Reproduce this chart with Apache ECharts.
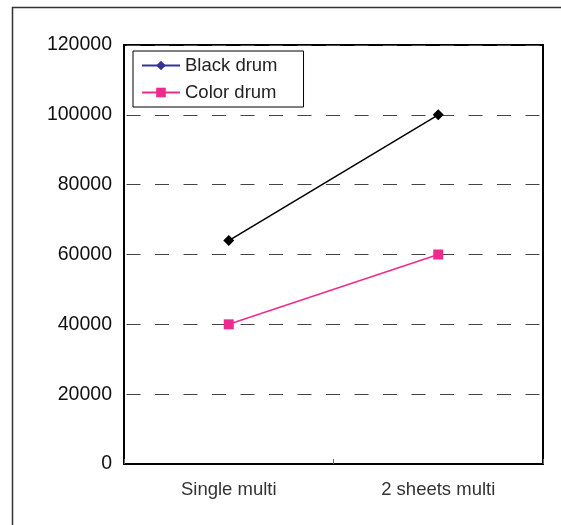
<!DOCTYPE html>
<html>
<head>
<meta charset="utf-8">
<script src="https://cdn.jsdelivr.net/npm/echarts@6/dist/echarts.min.js"></script>
<style>
  html, body { margin: 0; padding: 0; background: #fff; }
  #chart { width: 561px; height: 525px; }
</style>
</head>
<body>
<div id="chart"></div>
<script>
  // data
  const categories = ['Single multi', '2 sheets multi'];
  const blackDrum = [64000, 100000];
  const colorDrum = [40000, 60000];
  const yTicks = { min: 0, max: 120000, interval: 20000 };

  const chartDom = document.getElementById('chart');
  const myChart = echarts.init(chartDom, null, { renderer: 'canvas' });
  const font = 'Liberation Sans, Arial, sans-serif';

  const option = {
    animation: false,
    backgroundColor: '#fff',
    textStyle: { fontFamily: font },
    graphic: [
      {
        // outer frame (only top + left visible in the reference)
        type: 'rect',
        shape: { x: 12.5, y: 7.5, width: 600, height: 600 },
        style: { fill: 'none', stroke: '#333', lineWidth: 1.5 },
        silent: true
      }
    ],
    grid: { left: 124, top: 45, right: 18, bottom: 61, containLabel: false,
      show: true, borderColor: '#000', borderWidth: 2 },
    legend: {
      orient: 'vertical',
      left: 133,
      top: 51,
      padding: [5, 26, 5, 8],
      itemGap: 8,
      itemWidth: 38,
      itemHeight: 12,
      borderColor: '#000',
      borderWidth: 1,
      textStyle: { fontSize: 18.5, color: '#222', fontFamily: font, lineHeight: 19 },
      data: [
        { name: 'Black drum', itemStyle: { color: '#333399' }, lineStyle: { color: '#333399' } },
        { name: 'Color drum', itemStyle: { color: '#ee2a8f' }, lineStyle: { color: '#ee2a8f' } }
      ]
    },
    xAxis: {
      type: 'category',
      data: categories,
      boundaryGap: true,
      axisLine: { lineStyle: { color: '#000', width: 2 } },
      axisTick: { show: true, length: 5, inside: true, lineStyle: { color: '#666' } },
      axisLabel: { fontSize: 18.5, color: '#333', margin: 16 }
    },
    yAxis: {
      type: 'value',
      min: yTicks.min,
      max: yTicks.max,
      interval: yTicks.interval,
      axisLine: { show: true, lineStyle: { color: '#000', width: 2 } },
      axisTick: { show: false },
      axisLabel: { fontSize: 19.5, color: '#111', margin: 12, formatter: v => String(v) },
      splitLine: { show: true, lineStyle: { color: '#444', width: 1, type: [14, 14.5], dashOffset: 26 } }
    },
    series: [
      {
        name: 'Black drum',
        type: 'line',
        data: blackDrum,
        symbol: 'diamond',
        symbolSize: 11,
        itemStyle: { color: '#000' },
        lineStyle: { color: '#000', width: 1.5 },
        z: 3
      },
      {
        name: 'Color drum',
        type: 'line',
        data: colorDrum,
        symbol: 'rect',
        symbolSize: 10,
        itemStyle: { color: '#ee2a8f' },
        lineStyle: { color: '#ee2a8f', width: 1.5 },
        z: 3
      }
    ]
  };
  myChart.setOption(option);
</script>
</body>
</html>
